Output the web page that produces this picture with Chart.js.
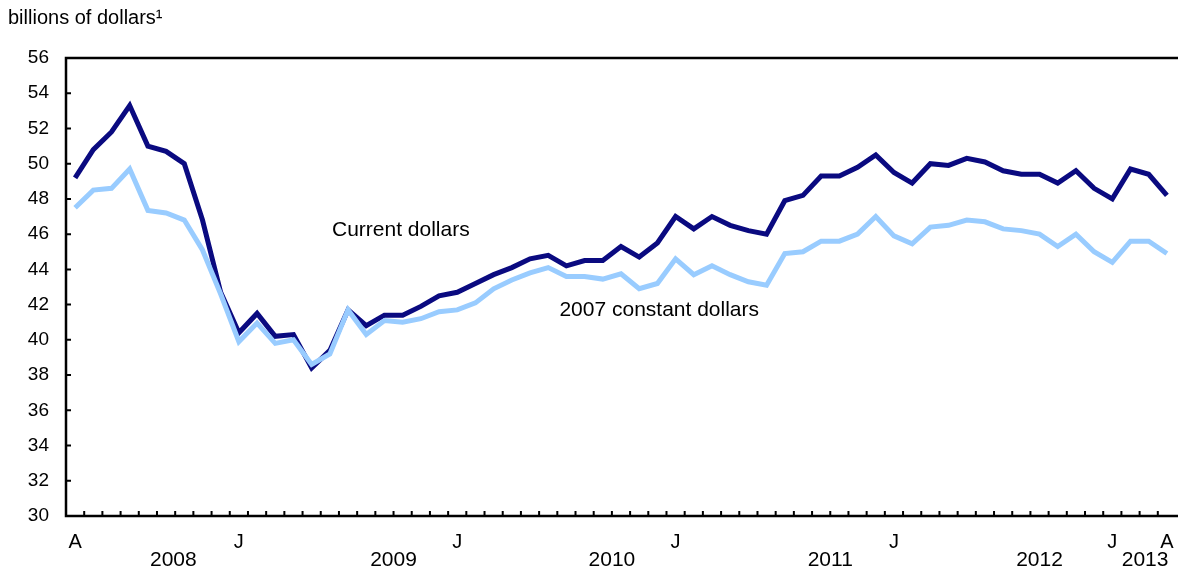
<!DOCTYPE html>
<html>
<head>
<meta charset="utf-8">
<script src="https://cdn.jsdelivr.net/npm/chart.js@4"></script>
<style>
  body { margin: 0; background: #fff; }
  #wrap { width: 1178px; height: 575px; }
</style>
</head>
<body>
<div id="wrap"><canvas id="salesChart"></canvas></div>
<script>
// months Apr 2008 .. Apr 2013
const months = [
  "A","M","J","J","A","S","O","N","D",
  "J","F","M","A","M","J","J","A","S","O","N","D",
  "J","F","M","A","M","J","J","A","S","O","N","D",
  "J","F","M","A","M","J","J","A","S","O","N","D",
  "J","F","M","A","M","J","J","A","S","O","N","D",
  "J","F","M","A"
];
const shownTicks = [0, 9, 21, 33, 45, 57, 60];

const years = ["2008", "2009", "2010", "2011", "2012", "2013"];
const yearAt = [5.4, 17.5, 29.5, 41.5, 53.0, 58.8];

const currentDollars = [
  49.2, 50.8, 51.8, 53.3, 51.0, 50.7, 50.0, 46.8, 42.7,
  40.4, 41.5, 40.2, 40.3, 38.4, 39.4, 41.7, 40.8, 41.4, 41.4, 41.9, 42.5,
  42.7, 43.2, 43.7, 44.1, 44.6, 44.8, 44.2, 44.5, 44.5, 45.3, 44.7, 45.5,
  47.0, 46.3, 47.0, 46.5, 46.2, 46.0, 47.9, 48.2, 49.3, 49.3, 49.8, 50.5,
  49.5, 48.9, 50.0, 49.9, 50.3, 50.1, 49.6, 49.4, 49.4, 48.9, 49.6, 48.6,
  48.0, 49.7, 49.4, 48.2
];
const constantDollars = [
  47.5, 48.5, 48.6, 49.7, 47.35, 47.2, 46.8, 45.1, 42.6,
  39.9, 40.95, 39.8, 40.0, 38.6, 39.2, 41.7, 40.3, 41.1, 41.0, 41.2, 41.6,
  41.7, 42.1, 42.9, 43.4, 43.8, 44.1, 43.6, 43.6, 43.45, 43.75, 42.9, 43.2,
  44.6, 43.7, 44.2, 43.7, 43.3, 43.1, 44.9, 45.0, 45.6, 45.6, 46.0, 47.0,
  45.9, 45.45, 46.4, 46.5, 46.8, 46.7, 46.3, 46.2, 46.0, 45.3, 46.0, 45.0,
  44.4, 45.6, 45.6, 44.9
];

// in-chart series labels: [text, category position, value]
const seriesLabels = [
  ["Current dollars", 17.9, 46.25],
  ["2007 constant dollars", 32.1, 41.7]
];

const FONT = "'Liberation Sans', Arial, sans-serif";

const frameAndText = {
  id: "frameAndText",
  afterDraw(chart) {
    const ctx = chart.ctx;
    const a = chart.chartArea;
    const x = chart.scales.x;
    const y = chart.scales.y;
    ctx.save();

    // frame
    ctx.strokeStyle = "#000";
    ctx.lineWidth = 2.5;
    ctx.beginPath();
    ctx.moveTo(a.right + 2, a.top);
    ctx.lineTo(a.left, a.top);
    ctx.lineTo(a.left, a.bottom);
    ctx.lineTo(a.right + 2, a.bottom);
    ctx.stroke();

    // inward tick marks
    ctx.lineWidth = 2;
    ctx.beginPath();
    y.ticks.forEach((t, i) => {
      const py = y.getPixelForTick(i);
      ctx.moveTo(a.left, py);
      ctx.lineTo(a.left + 5, py);
    });
    for (let i = 1; i < months.length; i++) {
      const px = x.getPixelForValue(i - 0.5);
      ctx.moveTo(px, a.bottom);
      ctx.lineTo(px, a.bottom - 5);
    }
    ctx.stroke();

    ctx.fillStyle = "#000";
    ctx.font = "20px " + FONT;
    ctx.textAlign = "left";
    ctx.textBaseline = "middle";
    ctx.fillText("billions of dollars\u00b9", 8, 18);

    ctx.font = "21px " + FONT;
    ctx.textAlign = "center";
    years.forEach((yr, i) => {
      ctx.fillText(yr, x.getPixelForValue(yearAt[i]), 560);
    });

    seriesLabels.forEach((s) => {
      ctx.fillText(s[0], x.getPixelForValue(s[1]), y.getPixelForValue(s[2]));
    });
    ctx.restore();
  }
};

new Chart(document.getElementById("salesChart"), {
  type: "line",
  data: {
    labels: months,
    datasets: [
      {
        label: "Current dollars",
        data: currentDollars,
        borderColor: "#0a0a80",
        backgroundColor: "#0a0a80",
        borderWidth: 5,
        pointRadius: 0,
        tension: 0,
        order: 2
      },
      {
        label: "2007 constant dollars",
        data: constantDollars,
        borderColor: "#99ccff",
        backgroundColor: "#99ccff",
        borderWidth: 5,
        pointRadius: 0,
        tension: 0,
        order: 1
      }
    ]
  },
  options: {
    responsive: true,
    maintainAspectRatio: false,
    animation: false,
    layout: { padding: { left: 0, right: 2, top: 58, bottom: 0 } },
    plugins: {
      legend: { display: false },
      tooltip: { enabled: false }
    },
    scales: {
      x: {
        type: "category",
        offset: true,
        grid: { display: false, offset: true },
        border: { display: false },
        afterFit: (s) => { s.height = 59; s.paddingLeft = 0; s.paddingRight = 0; },
        ticks: {
          autoSkip: false,
          maxRotation: 0,
          padding: 6,
          color: "#000",
          font: { family: FONT, size: 20 },
          callback: function (v, i) {
            return shownTicks.includes(i) ? months[i] : "";
          }
        }
      },
      y: {
        min: 30,
        max: 56,
        grid: { display: false },
        border: { display: false },
        afterFit: (s) => { s.width = 66; },
        ticks: {
          stepSize: 2,
          padding: 9,
          color: "#000",
          font: { family: FONT, size: 19 }
        }
      }
    }
  },
  plugins: [frameAndText]
});
</script>
</body>
</html>
